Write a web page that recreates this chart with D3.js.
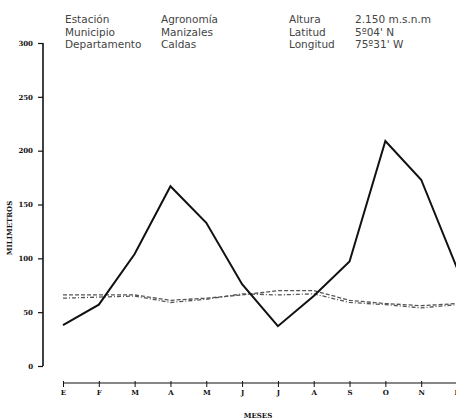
<html>
<head>
	<style>
		body { margin: 0; background: white; }
		.hdr { font: 10.5px "DejaVu Sans", sans-serif; fill: #444; }
		.tick text, .lbl { font: bold 7px "DejaVu Serif", serif; fill: #111; }
	</style>
	<script src="https://d3js.org/d3.v7.min.js"></script>
</head>
<body>
	<script>
		// Monthly rainfall (mm) and the two dashed reference series
		var months   = ["E", "F", "M", "A", "M", "J", "J", "A", "S", "O", "N", "D"];
		var rain     = [38, 57, 104, 167, 133, 76, 37, 65, 97, 209, 173, 91];
		var dashA    = [66, 66, 66, 61, 63, 66, 70, 70, 61, 58, 56, 58];
		var dashB    = [63, 64, 65, 59, 62, 67, 66, 67, 59, 57, 54, 57];
		var yTicks   = [0, 50, 100, 150, 200, 250, 300];

		var hdrLeft  = [["Estación", "Agronomía"], ["Municipio", "Manizales"], ["Departamento", "Caldas"]];
		var hdrRight = [["Altura", "2.150 m.s.n.m"], ["Latitud", "5º04' N"], ["Longitud", "75º31' W"]];

		var width = 456, height = 419;
		var svg = d3.select("body").append("svg")
			.attr("width", width)
			.attr("height", height);

		var x = d3.scalePoint().domain(d3.range(months.length)).range([63, 457]);
		var y = d3.scaleLinear().domain([0, 300]).range([366, 43]);

		// header block
		hdrLeft.forEach(function(r, i) {
			svg.append("text").attr("class", "hdr").attr("x", 65).attr("y", 23 + i * 12.5).text(r[0]);
			svg.append("text").attr("class", "hdr").attr("x", 161).attr("y", 23 + i * 12.5).text(r[1]);
		});
		hdrRight.forEach(function(r, i) {
			svg.append("text").attr("class", "hdr").attr("x", 289).attr("y", 23 + i * 12.5).text(r[0]);
			svg.append("text").attr("class", "hdr").attr("x", 355).attr("y", 23 + i * 12.5).text(r[1]);
		});

		// y axis
		var ya = svg.append("g").attr("transform", "translate(43,0)")
			.call(d3.axisLeft(y).tickValues(yTicks).tickSize(5).tickPadding(5));
		ya.select(".domain").attr("d", "M0," + y(300) + "V" + y(0)).attr("stroke-width", 1.6).attr("stroke", "#111");
		ya.selectAll(".tick line").attr("stroke-width", 1.2).attr("stroke", "#111");

		svg.append("text").attr("class", "lbl")
			.attr("transform", "translate(12,228) rotate(-90)")
			.attr("text-anchor", "middle")
			.text("MILIMETROS");

		// x axis (separate baseline below the plot)
		var xa = svg.append("g").attr("transform", "translate(0,383)")
			.call(d3.axisBottom(x).tickSize(4).tickPadding(3).tickFormat(function(i) { return months[i]; }));
		xa.select(".domain").attr("d", "M" + x(0) + ",0H" + width).attr("stroke-width", 1.2).attr("stroke", "#111");
		xa.selectAll(".tick line").attr("stroke", "#111").attr("y1", -2);

		svg.append("text").attr("class", "lbl")
			.attr("x", 258).attr("y", 418)
			.attr("text-anchor", "middle")
			.text("MESES");

		var line = d3.line()
			.x(function(d, i) { return x(i); })
			.y(function(d) { return y(d); });

		svg.append("path").datum(dashA)
			.attr("fill", "none").attr("stroke", "#555").attr("stroke-width", 1.3)
			.attr("stroke-dasharray", "4,2")
			.attr("d", line);

		svg.append("path").datum(dashB)
			.attr("fill", "none").attr("stroke", "#555").attr("stroke-width", 1.3)
			.attr("stroke-dasharray", "4,2,1,2")
			.attr("d", line);

		svg.append("path").datum(rain)
			.attr("fill", "none").attr("stroke", "#111").attr("stroke-width", 2)
			.attr("stroke-linejoin", "miter")
			.attr("d", line);
	</script>
</body>
</html>
